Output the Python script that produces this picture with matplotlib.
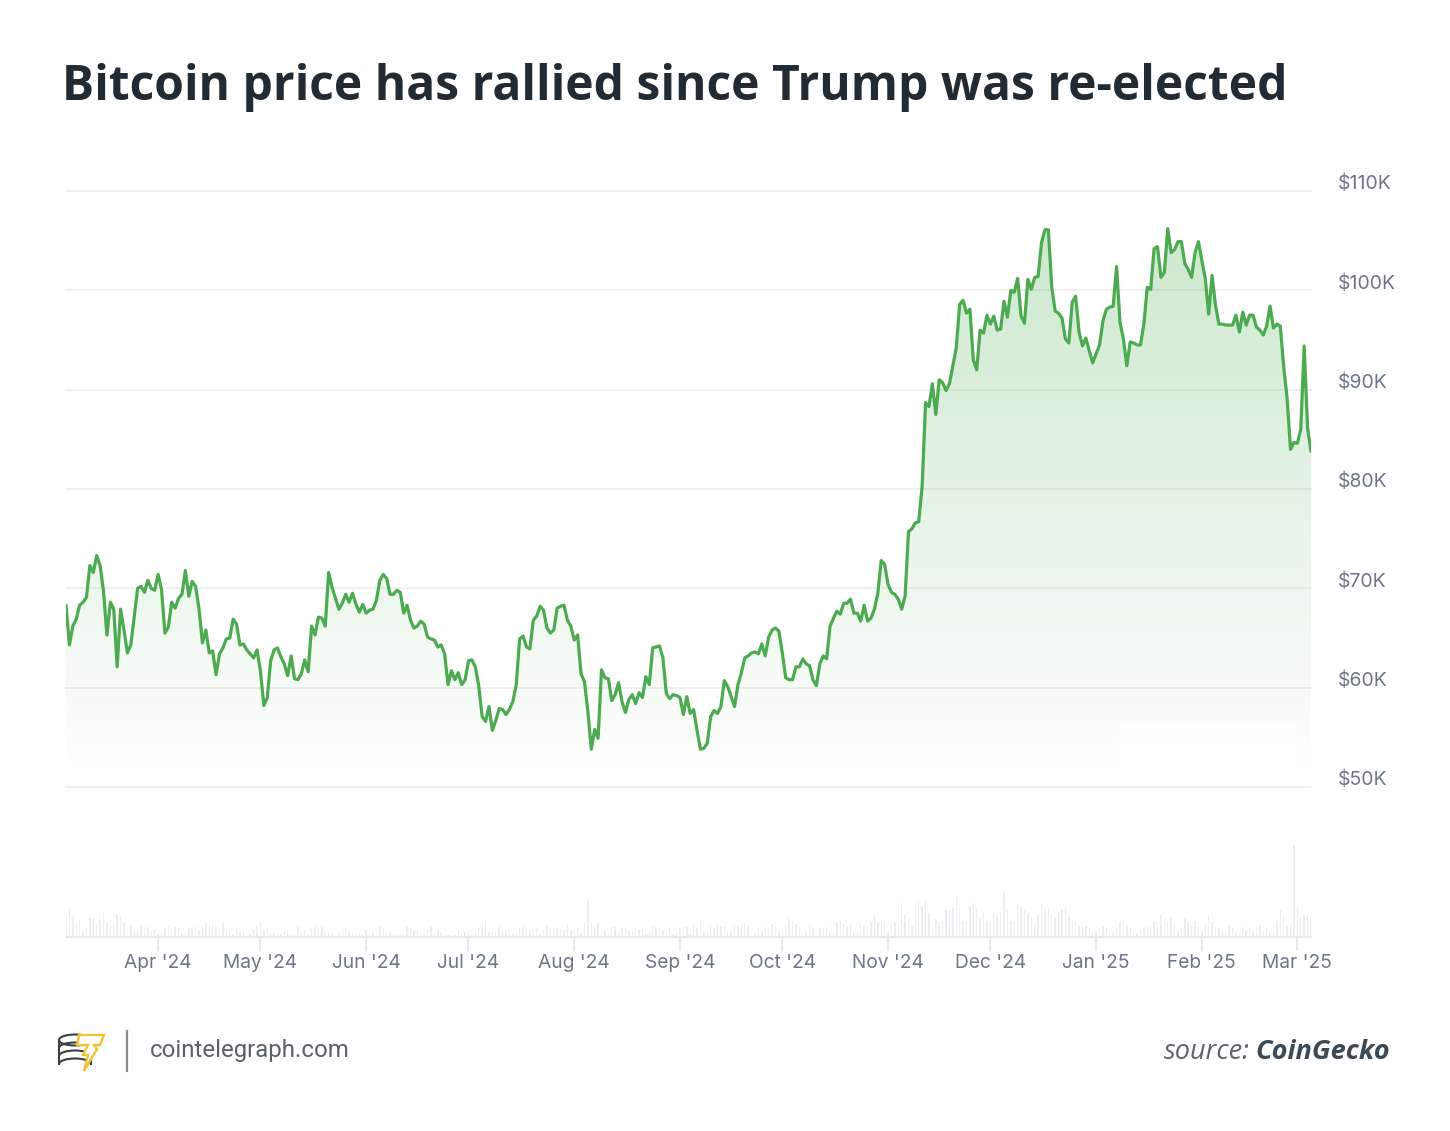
import numpy as np
import pandas as pd
import matplotlib
matplotlib.use("Agg")
import matplotlib.pyplot as plt
import matplotlib.dates as mdates
import matplotlib.transforms as mtransforms
from matplotlib.patches import Rectangle, Polygon, Arc
from matplotlib.colors import LinearSegmentedColormap
from matplotlib.lines import Line2D

# ---------------- data ----------------
start_date = "2024-03-05"
n_days = 366
missing_days = [20, 79]          # days without a readable vertex

# daily BTC price, thousands of USD (days 0..365, minus missing_days)
price_k = [
    68.3, 64.3, 66.2, 66.9, 68.3, 68.6, 69.1, 72.3, 71.6, 73.3, 72.3, 69.7, 65.3, 68.6, 67.9, 62.1,
    67.9, 65.8, 63.5, 64.3, 70.0, 70.2, 69.6, 70.8, 70.0, 69.8, 71.4, 69.9, 65.5, 66.1, 68.6, 68.0,
    69.0, 69.4, 71.8, 69.2, 70.7, 70.2, 67.9, 64.5, 65.8, 63.5, 63.7, 61.3, 63.4, 64.0, 64.9, 65.0,
    66.9, 66.4, 64.3, 64.4, 63.8, 63.4, 63.0, 63.8, 61.7, 58.2, 59.0, 62.7, 63.8, 64.0, 63.1, 62.4,
    61.2, 63.2, 60.9, 60.8, 61.4, 62.8, 61.6, 66.2, 65.3, 67.1, 67.0, 66.2, 71.6, 70.1, 67.9, 68.5,
    69.4, 68.6, 69.5, 68.4, 67.6, 68.4, 67.5, 67.8, 67.9, 68.8, 70.8, 71.4, 71.0, 69.4, 69.4, 69.8,
    69.6, 67.5, 68.3, 66.8, 66.0, 66.2, 66.7, 66.4, 65.1, 64.9, 64.8, 64.1, 64.3, 63.4, 60.3, 61.7,
    60.8, 61.5, 60.3, 60.8, 62.7, 62.8, 62.1, 60.2, 57.1, 56.6, 58.1, 55.7, 56.7, 57.9, 57.8, 57.3,
    57.8, 58.6, 60.3, 64.9, 65.2, 64.1, 63.9, 66.8, 67.2, 68.2, 67.8, 66.0, 65.5, 65.8, 68.0, 68.2,
    68.3, 66.8, 66.2, 64.8, 65.3, 61.4, 60.6, 57.6, 53.8, 55.8, 54.9, 61.8, 61.0, 60.9, 58.7, 59.3,
    60.5, 58.6, 57.5, 58.8, 59.3, 58.4, 59.5, 59.0, 61.1, 60.3, 64.0, 64.1, 64.2, 63.0, 59.4, 58.9,
    59.3, 59.2, 59.0, 57.3, 59.1, 57.4, 57.8, 55.7, 53.8, 53.9, 54.4,
    # days 189..250
    57.1, 57.7, 57.4, 58.1, 60.7, 60.1, 59.1, 58.1, 60.3, 61.5, 63.0, 63.2, 63.5, 63.6, 63.4, 64.4,
    63.2, 65.1, 65.8, 66.0, 65.7, 63.5, 61.0, 60.8, 60.8, 62.1, 62.1, 62.9, 62.4, 62.2, 60.8, 60.2,
    62.4, 63.2, 62.9, 66.2, 67.0, 67.7, 67.4, 68.5, 68.5, 68.9, 67.5, 67.5, 66.7, 68.3, 66.7, 67.0,
    67.9, 69.5, 72.8, 72.4, 70.4, 69.6, 69.4, 68.9, 67.9, 69.2, 75.7, 76.0, 76.6, 76.7,
    # days 251..309
    80.3, 88.7, 88.3, 90.6, 87.5, 91.0, 90.7, 89.9, 90.6, 92.4, 94.2, 98.6, 99.0, 97.7, 98.1, 93.0,
    92.0, 96.0, 95.7, 97.5, 96.6, 97.4, 96.0, 96.1, 98.9, 97.3, 100.0, 99.8, 101.2, 97.4, 96.7, 101.1,
    100.1, 101.3, 101.4, 104.8, 106.1, 106.1, 100.3, 97.9, 97.7, 97.2, 95.1, 94.7, 98.8, 99.4, 95.8, 94.4,
    95.2, 93.9, 92.7, 93.6, 94.5, 96.9, 98.1, 98.3, 98.4, 102.4, 96.8,
    # days 310..365
    95.1, 92.4, 94.8, 94.7, 94.5, 94.5, 96.6, 100.3, 100.1, 104.2, 104.4, 101.3, 101.8, 106.2, 103.8, 104.1,
    104.9, 104.9, 102.7, 102.1, 101.3, 103.8, 104.9, 103.0, 101.2, 97.6, 101.5, 98.5, 96.6, 96.6, 96.5, 96.5,
    96.5, 97.5, 95.8, 97.8, 96.5, 97.5, 97.5, 96.3, 96.0, 95.5, 96.4, 98.4, 96.2, 96.6, 96.4, 92.3,
    89.1, 84.0, 84.7, 84.6, 86.0, 94.4, 86.1, 83.8,
]

# daily traded volume, billions of USD (days 0..365)
volume_b = [
    42, 56, 42, 28, 35, 11, 21, 38, 38, 28, 35, 49, 28, 24, 28, 46, 42, 28, 4, 24, 14, 14, 24, 21, 21, 14, 14, 7,
    10, 18, 25, 18, 21, 18, 7, 7, 18, 21, 21, 14, 25, 28, 25, 25, 21, 18, 28,
    10, 14, 7, 18, 10, 10, 4, 7, 14, 21, 28, 14, 18, 10, 9, 9, 7, 10, 14, 4, 4, 21, 10, 14,
    4, 18, 21, 18, 21, 14, 9, 4, 2, 7, 10, 18, 13, 7, 4, 7, 4, 14, 9, 9, 4, 21, 18, 14,
    10, 4, 4, 4, 7, 21, 18, 14, 14, 4, 4, 14, 21, 10, 14, 10, 4, 4, 2, 4, 14, 7, 10, 10,
    4, 9, 18, 21, 35, 10, 10, 10, 21, 14, 14, 14, 9, 10, 21, 21, 18, 14, 14, 21, 7, 14, 25, 18,
    18, 18, 14, 14, 25, 14, 10, 18, 7, 28, 74,
    28, 21, 28, 9, 14, 7, 21, 21, 10, 18, 21, 14, 10, 18, 14, 18, 4, 14, 25, 21, 18, 14, 10, 18, 4, 10, 18, 21, 21, 4,
    25, 18, 33, 10, 10, 22, 18, 26, 22, 22, 10, 10, 22, 22, 26, 29, 22, 1, 7, 13, 13, 22, 17, 26, 22, 10, 7,
    22, 37, 30, 26, 22, 7, 10, 22, 18, 3, 18, 18, 22, 10, 10, 30, 33, 26, 22, 26, 10, 10, 26, 22, 22, 30, 45, 30, 30, 37,
    10, 26, 30, 26, 70, 45, 37, 22, 66, 73, 61, 73, 48, 20, 37, 30, 30, 55, 55, 58, 83, 58,
    33, 33, 63, 70, 58, 37, 51, 33, 37, 45, 40, 50, 91, 55, 33, 30, 66, 60, 55, 48, 40, 30, 45, 60, 55,
    58, 45, 40, 50, 55, 60, 40, 33, 30, 25, 20, 22, 18,
    15, 12, 18, 22, 20, 10, 10, 18, 30, 33, 25, 20, 12, 8, 15, 20, 20, 25, 33, 30, 45, 37, 30, 40, 28, 12, 18, 40, 30, 25,
    33, 20, 12, 25, 45, 30, 20, 18, 15, 12, 25, 18, 10, 8, 22, 15, 18, 12, 20, 25, 15, 18, 10, 12, 33,
    55, 40, 25, 30, 184, 60, 40, 45, 45, 40,
]

month_ticks = ["2024-04-01", "2024-05-01", "2024-06-01", "2024-07-01", "2024-08-01", "2024-09-01",
               "2024-10-01", "2024-11-01", "2024-12-01", "2025-01-01", "2025-02-01", "2025-03-01"]
month_labels = ["Apr '24", "May '24", "Jun '24", "Jul '24", "Aug '24", "Sep '24",
                "Oct '24", "Nov '24", "Dec '24", "Jan '25", "Feb '25", "Mar '25"]
price_ticks = [50, 60, 70, 80, 90, 100, 110]
price_labels = ["$50K", "$60K", "$70K", "$80K", "$90K", "$100K", "$110K"]

title = "Bitcoin price has rallied since Trump was re-elected"
site = "cointelegraph.com"
source_lbl = "source:"
source_name = "CoinGecko"

# ---------------- styles ----------------
W, H = 1450, 1131
LINE = "#4caa50"
GRID = "#ededf0"
LABEL = "#6b7789"
BAR = "#eceef2"
UI_FONT = ["Inter", "DejaVu Sans"]

all_dates = pd.date_range(start_date, periods=n_days, freq="D")
x_all = mdates.date2num(all_dates.to_pydatetime())
x_price = np.array([x for i, x in enumerate(x_all) if i not in missing_days])
y_price = np.array(price_k)
x0, x1 = x_all[0], x_all[-1]

fig = plt.figure(figsize=(W / 100, H / 100), dpi=100)
fig.patch.set_facecolor("white")


def frac_x(px):
    return px / W


def frac_y(py):
    return 1 - py / H


# ---- price axes ----
ax = fig.add_axes([frac_x(66), frac_y(787), frac_x(1311) - frac_x(66), frac_y(191) - frac_y(787)])
ax.set_xlim(x0, x1)
ax.set_ylim(50, 110)
for s in ax.spines.values():
    s.set_visible(False)
ax.patch.set_alpha(0)
ax.set_xticks([])
ax.set_yticks([])
for yv in price_ticks:
    ax.axhline(yv, color=GRID, lw=1.2, zorder=0, clip_on=False)

cmap = LinearSegmentedColormap.from_list(
    "fade", [(0.30, 0.69, 0.31, 0.0), (0.30, 0.69, 0.31, 0.30)])
grad = np.linspace(0, 1, 256).reshape(-1, 1)
im = ax.imshow(grad, extent=[x0, x1, 50, 110], origin="lower", aspect="auto",
               cmap=cmap, zorder=1, interpolation="bilinear")
verts = [(x_price[0], 50)] + list(zip(x_price, y_price)) + [(x_price[-1], 50)]
clip_poly = Polygon(verts, closed=True, facecolor="none", edgecolor="none", transform=ax.transData)
ax.add_patch(clip_poly)
im.set_clip_path(clip_poly)

ax.plot(x_price, y_price, color=LINE, lw=2.3, zorder=3, solid_joinstyle="round", solid_capstyle="round")

# price labels sit right of the plot, a little above their gridline
lab_tr = ax.get_yaxis_transform() + mtransforms.ScaledTranslation(27 / 100, 7 / 100, fig.dpi_scale_trans)
for yv, lab in zip(price_ticks, price_labels):
    ax.text(1.0, yv, lab, transform=lab_tr, ha="left", va="center", fontsize=14,
            color=LABEL, family=UI_FONT, clip_on=False)

# ---- volume axes ----
axv = fig.add_axes([frac_x(66), frac_y(937), frac_x(1311) - frac_x(66), frac_y(845) - frac_y(937)])
axv.set_xlim(x0, x1)
axv.set_ylim(0, max(volume_b))
for s in axv.spines.values():
    s.set_visible(False)
axv.patch.set_alpha(0)
axv.bar(x_all, volume_b, width=0.42, color=BAR, zorder=1, align="center")
axv.axhline(0, color="#e6e8ec", lw=1.5, zorder=2, clip_on=False)
tick_x = mdates.date2num(pd.to_datetime(month_ticks).to_pydatetime())
axv.set_xticks(tick_x)
axv.set_xticklabels(month_labels)
axv.set_yticks([])
axv.tick_params(axis="x", length=10, width=1.3, color="#e4e7eb", pad=2,
                labelcolor=LABEL, labelsize=13.8)
for t in axv.get_xticklabels():
    t.set_fontfamily(UI_FONT)

# ---- overlay in pixel coordinates ----
ov = fig.add_axes([0, 0, 1, 1])
ov.set_xlim(0, W)
ov.set_ylim(H, 0)
ov.axis("off")
ov.patch.set_alpha(0)

# faint white block in lower right of the plot
ov.add_patch(Rectangle((1118, 722), 180, 53, facecolor="white", edgecolor="none", alpha=0.5, zorder=1))

ov.text(62, 100, title, fontsize=34.6, fontweight="bold", family=["Open Sans", "DejaVu Sans"],
        color="#212b33", va="baseline", ha="left")

# logo: stack of coins + lightning T
coin_col = "#3a3f44"
cx, cw, ch = 75, 32, 11
ov.add_patch(Arc((cx, 1040), cw, ch, theta1=0, theta2=360, color=coin_col, lw=1.5, zorder=5))
for cy in (1048, 1056, 1064):
    ov.add_patch(Arc((cx, cy), cw, ch, theta1=180, theta2=360, color=coin_col, lw=1.5, zorder=5))
ov.add_line(Line2D([cx - cw / 2] * 2, [1040, 1064], color=coin_col, lw=1.5, zorder=5))
ov.add_line(Line2D([cx + cw / 2] * 2, [1040, 1064], color=coin_col, lw=1.5, zorder=5))
bolt = [(79, 1035), (104, 1035), (100, 1045), (94, 1045), (97, 1049), (84, 1071),
        (88, 1055), (83, 1055), (88, 1045), (77, 1045)]
ov.add_patch(Polygon(bolt, closed=True, facecolor="white", edgecolor="#f2c230", lw=1.7, zorder=6))

ov.add_line(Line2D([127, 127], [1031, 1071], color="#8c8c8c", lw=1.6))
ov.text(150, 1051, site, fontsize=17.3, family=["Roboto", "DejaVu Sans"], color="#57626d",
        va="center", ha="left")

t_name = ov.text(1390, 1052, source_name, fontsize=19.5, family=["Open Sans", "DejaVu Sans"],
                 style="italic", fontweight="bold", color="#3c4a56", va="center", ha="right")
fig.canvas.draw()
bb = t_name.get_window_extent()
ov.text(bb.x0 - 6, 1052, source_lbl, fontsize=19.5, family=["Open Sans", "DejaVu Sans"],
        style="italic", color="#5b6670", va="center", ha="right")

fig.savefig("out.png", dpi=100, facecolor="white")
